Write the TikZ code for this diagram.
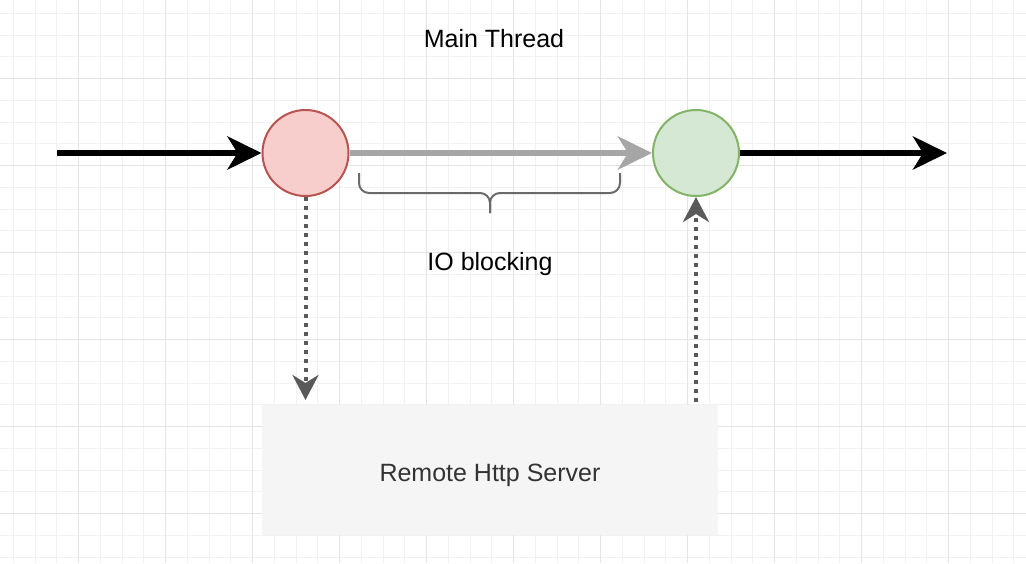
\documentclass[tikz,border=0pt]{standalone}
\usepackage{fontspec}
\setmainfont{Liberation Sans}
\usetikzlibrary{arrows.meta,positioning}
\definecolor{callfill}{HTML}{F8CECC}
\definecolor{calldraw}{HTML}{B85450}
\definecolor{backfill}{HTML}{D5E8D4}
\definecolor{backdraw}{HTML}{82B366}
\definecolor{waitgray}{HTML}{A6A6A6}
\definecolor{dotgray}{HTML}{595959}
\definecolor{srvfill}{HTML}{F5F5F5}
\definecolor{gridminor}{HTML}{F2F2F2}
\definecolor{gridmajor}{HTML}{E4E4E4}

\begin{document}
\begin{tikzpicture}[x=1pt,y=-1pt]
% styles
\tikzstyle{vertex}=[circle,minimum size=86pt,inner sep=0pt,line width=2pt]
\tikzstyle{label}=[font=\fontsize{25}{30}\selectfont,inner sep=0pt]
\tikzstyle{flow}=[line width=6pt,-{Stealth[length=34pt,width=33pt,inset=10pt]}]
\tikzstyle{rpc}=[dotgray,line width=4pt,dash pattern=on 4pt off 5pt,-{Stealth[length=25pt,width=26pt,inset=8pt]}]

% background and grid
\fill[white] (0,0) rectangle (1026,563);
\useasboundingbox (0,0) rectangle (1026,563);
\foreach \i in {-3,...,43}
\draw[gridminor,line width=1pt] (78.5+21.75*\i,0) -- (78.5+21.75*\i,563);
\foreach \i in {-3,...,22}
\draw[gridminor,line width=1pt] (0,78.5+21.75*\i) -- (1026,78.5+21.75*\i);
\foreach \i in {-1,...,10}
\draw[gridmajor,line width=1pt] (78.5+87*\i,0) -- (78.5+87*\i,563);
\foreach \i in {-1,...,5}
\draw[gridmajor,line width=1pt] (0,78.5+87*\i) -- (1026,78.5+87*\i);

% nodes
\coordinate (G-start) at (57,153);
\node[vertex,fill=callfill,draw=calldraw] (G-call) at (305.5,153) {};
\node[vertex,fill=backfill,draw=backdraw] (G-back) at (696,153) {};
\coordinate (G-end) at (947,153);
\node[fill=srvfill,minimum width=456pt,minimum height=130pt,inner sep=0pt] (server) at (490,470) {};
\node[label,text=black!80,anchor=base] (server-text) at (490,481) {Remote Http Server};
\coordinate (srv-in) at (G-call |- 0,400);
\coordinate (srv-out) at (G-back |- 0,402);

% texts
\node[label,anchor=base] (title) at (494,47) {Main Thread};
\node[label,anchor=base] (wait) at (490,270) {IO blocking};

% arrows
\draw[flow] (G-start) -- (G-call);
\draw[flow,waitgray] (G-call) -- (G-back);
\draw[flow] (G-back) -- (G-end);
\draw[rpc] (G-call) -- (srv-in);
\draw[rpc] (srv-out) -- (G-back);

% brace
\draw[dotgray!90,line width=2pt,rounded corners=10pt] (359,173) -- (359,193) -- (490,193) -- (490,213);
\draw[dotgray!90,line width=2pt,rounded corners=10pt] (620,173) -- (620,193) -- (490,193) -- (490,213);
\end{tikzpicture}
\end{document}
